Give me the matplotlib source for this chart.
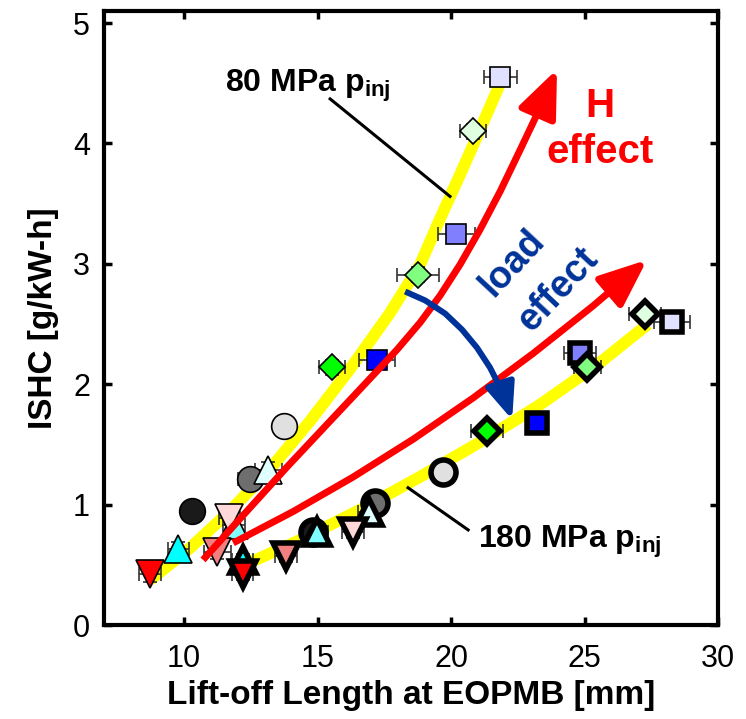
import numpy as np
import matplotlib
matplotlib.use('Agg')
import matplotlib.pyplot as plt
from matplotlib.patches import FancyArrowPatch
from matplotlib.path import Path

plt.rcParams['font.family'] = ['Liberation Sans', 'DejaVu Sans']
plt.rcParams['mathtext.fontset'] = 'custom'
plt.rcParams['mathtext.rm'] = 'Liberation Sans'
plt.rcParams['mathtext.bf'] = 'Liberation Sans:bold'

# operating points: marker shape and face colour (same for both pressures)
shapes = ['v', 'v', 'v', '^', '^', '^', 'o', 'o', 'o', 'D', 'D', 'D', 's', 's', 's']
faces = ['#ff0000', '#f08080', '#ffd9d9', '#00ffff', '#80ffff', '#e0ffff',
         '#1a1a1a', '#6e6e6e', '#e0e0e0', '#00ff00', '#80ff80', '#e0ffe0',
         '#0000ff', '#8080ff', '#e0e0ff']

# 80 MPa injection pressure
lol80 = [8.73, 11.24, 11.7, 9.78, 11.87, 13.15, 10.3, 12.47, 13.75, 15.54, 18.76, 20.82, 17.23, 20.19, 21.84]
ishc80 = [0.42, 0.61, 0.89, 0.63, 0.83, 1.29, 0.95, 1.21, 1.65, 2.14, 2.91, 4.10, 2.20, 3.25, 4.55]
xerr80 = [0.4, 0.5, 0.4, 0.4, 0.4, 0.5, 0.3, 0.45, 0.4, 0.47, 0.8, 0.5, 0.67, 0.69, 0.62]
yerr80 = [0.06] * 15

# 180 MPa injection pressure
lol180 = [12.2, 13.82, 16.33, 12.2, 14.98, 16.93, 14.83, 17.15, 19.7, 21.35, 25.1, 27.27, 23.22, 24.83, 28.28]
ishc180 = [0.42, 0.57, 0.77, 0.54, 0.77, 0.94, 0.77, 1.01, 1.27, 1.61, 2.14, 2.58, 1.68, 2.26, 2.52]
xerr180 = [0.4, 0.4, 0.4, 0.4, 0.4, 0.4, 0.4, 0.4, 0.4, 0.6, 0.5, 0.6, 0.4, 0.6, 0.67]
yerr180 = [0.05] * 15

# yellow trend lines
trend80_x = [8.73, 10.23, 11.72, 13.22, 14.72, 16.22, 17.72, 18.84, 19.59, 20.34, 21.09, 21.91]
trend80_y = [0.374, 0.641, 0.947, 1.296, 1.695, 2.128, 2.594, 2.993, 3.376, 3.742, 4.117, 4.534]
trend180_x = [11.80, 12.10, 14.35, 16.59, 18.84, 21.09, 23.33, 25.58, 27.38]
trend180_y = [0.453, 0.483, 0.707, 0.957, 1.231, 1.520, 1.830, 2.180, 2.500]

# effect arrows
h_arrow_x = [10.71, 11.99, 13.86, 16.33, 17.98, 18.84, 19.59, 20.34, 21.09, 21.84, 22.58, 23.33, 23.97]
h_arrow_y = [0.541, 0.857, 1.314, 1.897, 2.288, 2.512, 2.737, 2.995, 3.286, 3.602, 3.943, 4.293, 4.617]
h2_arrow_x = [11.84, 14.08, 16.33, 18.58, 20.82, 23.07, 25.32, 27.34]
h2_arrow_y = [0.682, 0.942, 1.229, 1.543, 1.885, 2.255, 2.651, 3.033]
load_arrow_x = [18.28, 19.03, 19.78, 20.41, 20.97, 21.46, 21.84, 22.10, 22.29]
load_arrow_y = [2.770, 2.696, 2.587, 2.454, 2.304, 2.138, 1.972, 1.830, 1.705]

fig = plt.figure(figsize=(7.46, 7.19), dpi=100)
ax = fig.add_axes([0.1394, 0.1307, 0.8231, 0.854])

ax.plot(trend80_x, trend80_y, color='#ffff00', lw=8.5, solid_joinstyle='round', solid_capstyle='butt', zorder=2)
ax.plot(trend180_x, trend180_y, color='#ffff00', lw=8.5, solid_joinstyle='round', solid_capstyle='butt', zorder=2)

ax.errorbar(lol80, ishc80, xerr=xerr80, yerr=yerr80, fmt='none', ecolor='#333333',
            elinewidth=1.2, capsize=5, capthick=1.2, zorder=3)
ax.errorbar(lol180, ishc180, xerr=xerr180, yerr=yerr180, fmt='none', ecolor='#333333',
            elinewidth=1.2, capsize=5, capthick=1.2, zorder=3)

sizes80 = {'o': 18.5, 's': 15, 'D': 13.5, '^': 20, 'v': 20}
sizes180 = {'o': 18, 's': 15, 'D': 13, '^': 19, 'v': 19}
order = ['o', 's', 'D', '^', 'v']
for k, m in enumerate(order):
    for i in range(len(shapes)):
        if shapes[i] != m:
            continue
        ax.plot(lol80[i], ishc80[i], marker=m, ms=sizes80[m], mfc=faces[i], mec='black',
                mew=1.2, ls='none', zorder=4 + k * 0.1)
for k, m in enumerate(order):
    for i in range(len(shapes)):
        if shapes[i] != m:
            continue
        ax.plot(lol180[i], ishc180[i], marker=m, ms=sizes180[m], mfc=faces[i], mec='black',
                mew=4, ls='none', zorder=4.5 + k * 0.1)

# arrows
for xs, ys in [(h_arrow_x, h_arrow_y), (h2_arrow_x, h2_arrow_y)]:
    arr = FancyArrowPatch(path=Path(np.column_stack([xs, ys])),
                          arrowstyle='-|>,head_length=1.45,head_width=0.6',
                          mutation_scale=20, color='#ff0000', lw=5,
                          joinstyle='round', capstyle='butt',
                          transform=ax.transData, zorder=6)
    ax.add_patch(arr)
arr = FancyArrowPatch(path=Path(np.column_stack([load_arrow_x, load_arrow_y])),
                      arrowstyle='-|>,head_length=1.1,head_width=0.45',
                      mutation_scale=20, color='#003399', lw=4.3,
                      joinstyle='round', capstyle='butt',
                      transform=ax.transData, zorder=6)
ax.add_patch(arr)

# pointer lines
ax.plot([15.47, 19.96], [4.37, 3.56], color='black', lw=2.2, zorder=6)
ax.plot([18.39, 20.64], [1.14, 0.79], color='black', lw=2.2, zorder=6)

ax.text(11.54, 4.43, r'80 MPa p$_{\mathbf{inj}}$', fontsize=23, fontweight='bold',
        ha='left', va='baseline', zorder=7)
ax.text(21.01, 0.64, r'180 MPa p$_{\mathbf{inj}}$', fontsize=23, fontweight='bold',
        ha='left', va='baseline', zorder=7)
ax.text(25.58, 4.31, 'H', fontsize=29, fontweight='bold', color='#ff0000',
        ha='center', va='center', zorder=7)
ax.text(25.58, 3.93, 'effect', fontsize=29, fontweight='bold', color='#ff0000',
        ha='center', va='center', zorder=7)
ax.text(22.28, 3.01, 'load', fontsize=27, fontweight='bold', color='#003399',
        ha='center', va='center', rotation=47, rotation_mode='anchor', zorder=7)
ax.text(24.0, 2.79, 'effect', fontsize=27, fontweight='bold', color='#003399',
        ha='center', va='center', rotation=47, rotation_mode='anchor', zorder=7)

ax.set_xlim(7, 30)
ax.set_ylim(0, 5.1)
ax.set_xticks([10, 15, 20, 25, 30])
ax.set_yticks([0, 1, 2, 3, 4, 5])
ax.tick_params(direction='in', length=6, width=2.5, labelsize=22, top=True, right=True)
ax.tick_params(axis='x', pad=14)
ax.tick_params(axis='y', pad=10)
for sp in ax.spines.values():
    sp.set_linewidth(3)

ax.set_xlabel('Lift-off Length at EOPMB [mm]', fontsize=24, fontweight='bold', labelpad=4)
ax.set_ylabel('ISHC [g/kW-h]', fontsize=24, fontweight='bold', labelpad=10)

fig.savefig('out.png', dpi=100)
